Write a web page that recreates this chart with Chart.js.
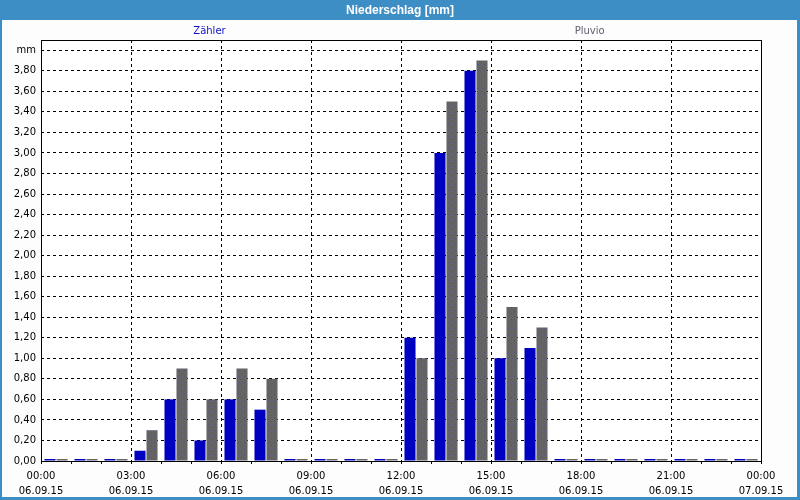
<!DOCTYPE html>
<html lang="de">
  <head>
    <meta charset="utf-8" />
    <title>Niederschlag</title>
    <style>
      * { margin: 0; padding: 0; box-sizing: border-box; }
      body { width: 800px; height: 500px; background: #fcfdfc; overflow: hidden; }
      #chart { display: block; }
    </style>
  </head>
  <body>
    <canvas id="chart" width="800" height="500"></canvas>
    <script src="https://cdn.jsdelivr.net/npm/chart.js@4.4.1/dist/chart.umd.min.js"></script>
    <script>
      // Stundenwerte 06.09.15, 00:00 - 24:00
      const hours = [0, 1, 2, 3, 4, 5, 6, 7, 8, 9, 10, 11, 12, 13, 14, 15, 16, 17, 18, 19, 20, 21, 22, 23];
      const zaehler = [0, 0, 0, 0.1, 0.6, 0.2, 0.6, 0.5, 0, 0, 0, 0, 1.2, 3.0, 3.8, 1.0, 1.1, 0, 0, 0, 0, 0, 0, 0];
      const pluvio = [0, 0, 0, 0.3, 0.9, 0.6, 0.9, 0.8, 0, 0, 0, 0, 1.0, 3.5, 3.9, 1.5, 1.3, 0, 0, 0, 0, 0, 0, 0];
      const seriesNames = ["Zähler", "Pluvio"];
      const xTickTimes = ["00:00", "03:00", "06:00", "09:00", "12:00", "15:00", "18:00", "21:00", "00:00"];
      const xTickDates = ["06.09.15", "06.09.15", "06.09.15", "06.09.15", "06.09.15", "06.09.15", "06.09.15", "06.09.15", "07.09.15"];
      const yTickValues = [0, 0.2, 0.4, 0.6, 0.8, 1.0, 1.2, 1.4, 1.6, 1.8, 2.0, 2.2, 2.4, 2.6, 2.8, 3.0, 3.2, 3.4, 3.6, 3.8, 4.0];
      const chartTitle = "Niederschlag [mm]";
      const unitLabel = "mm";

      const FRAME = "#3e8ec6";
      const FONT = "'DejaVu Sans', Verdana, sans-serif";
      const TITLE_FONT = "'Liberation Sans', Arial, sans-serif";

      // dotted grey fill like the original
      const pat = document.createElement("canvas");
      pat.width = 6;
      pat.height = 6;
      const pctx = pat.getContext("2d");
      pctx.fillStyle = "#646464";
      pctx.fillRect(0, 0, 6, 6);
      pctx.fillStyle = "#52528e";
      pctx.fillRect(1, 1, 1, 1);
      pctx.fillRect(4, 4, 1, 1);
      const greyFill = document.getElementById("chart").getContext("2d").createPattern(pat, "repeat");

      // frame, title bar and series captions
      const framePlugin = {
        id: "frame",
        beforeDraw(chart) {
          const { ctx, width, height } = chart;
          ctx.save();
          ctx.fillStyle = "#fcfdfc";
          ctx.fillRect(0, 0, width, height);
          ctx.fillStyle = FRAME;
          ctx.fillRect(0, 0, width, 20);
          ctx.fillRect(0, 0, 2, height);
          ctx.fillRect(width - 3, 0, 3, height);
          ctx.fillRect(0, height - 3, width, 3);
          ctx.fillStyle = "#ffffff";
          ctx.font = "bold 12px " + TITLE_FONT;
          ctx.textAlign = "center";
          ctx.textBaseline = "middle";
          ctx.fillText(chartTitle, width / 2, 11);
          const ca = chart.chartArea;
          ctx.fillStyle = "#ffffff";
          ctx.fillRect(ca.left, ca.top, ca.right - ca.left, ca.bottom - ca.top);
          ctx.font = "10px " + FONT;
          ctx.fillStyle = "#1010c8";
          ctx.fillText(seriesNames[0], ca.left + (ca.right - ca.left) * 0.234, 31);
          ctx.fillStyle = "#606070";
          ctx.fillText(seriesNames[1], ca.left + (ca.right - ca.left) * 0.762, 31);
          ctx.restore();
        },
        afterDraw(chart) {
          const { ctx } = chart;
          const ca = chart.chartArea;
          ctx.save();
          ctx.strokeStyle = "#000000";
          ctx.lineWidth = 1;
          ctx.strokeRect(Math.round(ca.left) + 0.5, Math.round(ca.top) + 0.5, Math.round(ca.right - ca.left), Math.round(ca.bottom - ca.top));
          ctx.restore();
        },
      };

      new Chart(document.getElementById("chart"), {
        type: "bar",
        plugins: [framePlugin],
        data: {
          datasets: [
            {
              label: seriesNames[0],
              data: hours.map((h, i) => ({ x: h + 0.5, y: zaehler[i] })),
              backgroundColor: "#0000c0",
            },
            {
              label: seriesNames[1],
              data: hours.map((h, i) => ({ x: h + 0.5, y: pluvio[i] })),
              backgroundColor: greyFill,
            },
          ],
        },
        options: {
          responsive: false,
          animation: false,
          layout: { padding: { top: 40, right: 39, bottom: 3, left: 2 } },
          datasets: {
            bar: { categoryPercentage: 0.8, barPercentage: 0.92, minBarLength: 2 },
          },
          plugins: {
            legend: { display: false },
            tooltip: { enabled: false },
            title: { display: false },
          },
          scales: {
            x: {
              type: "linear",
              min: 0,
              max: 24,
              offset: false,
              afterBuildTicks: (scale) => {
                scale.ticks = hours.concat([24]).map((h) => ({ value: h }));
              },
              afterFit: (scale) => {
                scale.height = 36;
              },
              border: { display: false, dash: [3, 3] },
              grid: {
                offset: false,
                color: (c) => (c.tick && c.tick.value % 3 === 0 ? "#000000" : "rgba(0,0,0,0)"),
                tickColor: "#000000",
                tickBorderDash: [],
                tickLength: 3,
                lineWidth: 1,
              },
              ticks: {
                color: "#000000",
                font: { family: FONT, size: 10, lineHeight: 1.5 },
                padding: 5,
                maxRotation: 0,
                autoSkip: false,
                callback: (v) => (v % 3 === 0 ? [xTickTimes[v / 3], xTickDates[v / 3]] : ""),
              },
            },
            y: {
              min: 0,
              max: 4.1,
              afterBuildTicks: (scale) => {
                scale.ticks = yTickValues.map((v) => ({ value: v }));
              },
              afterFit: (scale) => {
                scale.width = 39;
              },
              border: { display: false, dash: [3, 3] },
              grid: {
                color: "#000000",
                drawTicks: false,
                lineWidth: 1,
              },
              ticks: {
                color: "#000000",
                font: { family: FONT, size: 10 },
                padding: 5,
                callback: (v) => (Math.abs(v - 4) < 0.001 ? unitLabel : v.toFixed(2).replace(".", ",")),
              },
            },
          },
        },
      });
    </script>
  </body>
</html>
